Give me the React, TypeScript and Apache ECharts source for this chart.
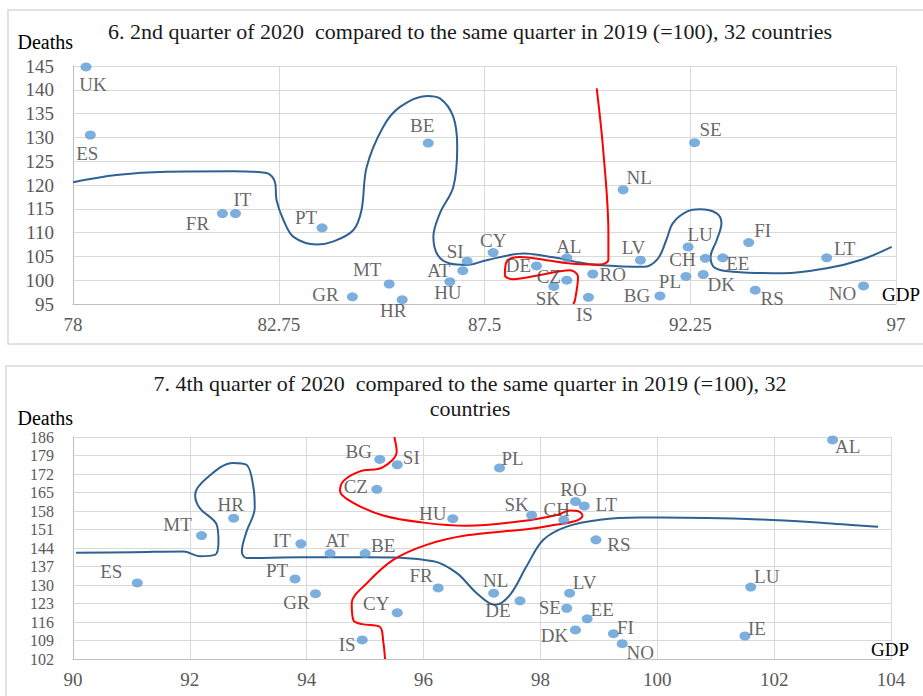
import React, { useEffect, useRef } from 'react';
import * as echarts from 'echarts';

const FONT = "'Liberation Serif', 'Times New Roman', serif";

// ---- Panel 6: 2nd quarter 2020 vs 2nd quarter 2019 (=100)
const Q2_TITLE = '6. 2nd quarter of 2020  compared to the same quarter in 2019 (=100), 32 countries';
const Q2_COUNTRIES = ['UK', 'ES', 'FR', 'IT', 'PT', 'GR', 'MT', 'HR', 'BE', 'HU', 'AT', 'SI', 'CY', 'DE', 'AL', 'CZ',
  'SK', 'RO', 'IS', 'LV', 'SE', 'NL', 'LU', 'CH', 'EE', 'FI', 'LT', 'PL', 'DK', 'BG', 'RS', 'NO'];
const Q2_GDP = [78.3, 78.4, 81.45, 81.75, 83.75, 84.45, 85.3, 85.6, 86.2, 86.7, 87.0, 87.1, 87.7, 88.7, 89.4, 89.4,
  89.1, 90.0, 89.9, 91.1, 92.35, 90.7, 92.2, 92.6, 93.0, 93.6, 95.4, 92.15, 92.55, 91.55, 93.75, 96.25];
const Q2_DEATHS = [144.8, 130.5, 114.0, 114.0, 111.0, 96.5, 99.2, 95.9, 128.8, 99.7, 102.0, 104.0, 105.8, 103.0, 104.7, 100.0,
  98.7, 101.3, 96.4, 104.2, 128.9, 119.0, 107.0, 104.6, 104.7, 107.9, 104.7, 100.8, 101.2, 96.7, 97.9, 98.8];
const Q2_GDP_TICKS = [78, 82.75, 87.5, 92.25, 97];
const Q2_DEATH_TICKS = [95, 100, 105, 110, 115, 120, 125, 130, 135, 140, 145];

// freehand outlines, in axis units
const Q2_BLUE_OUTLINE = [
  [78.0, 120.6], [79.0, 122.1], [80.16, 122.8], [81.7, 122.9], [82.47, 122.5], [82.66, 120.7], [82.7, 116.8],
  [82.86, 112.6], [83.09, 109.1], [83.63, 107.5], [84.0, 108.1], [84.47, 110.5], [84.66, 114.7], [84.78, 123.8],
  [85.16, 132.2], [85.55, 136.4], [86.17, 138.7], [86.47, 138.2], [86.78, 134.3], [86.87, 128.0], [86.78, 119.6],
  [86.47, 114.05], [86.32, 109.1], [86.42, 105.3], [86.7, 103.5], [87.09, 103.2], [87.55, 104.2], [88.4, 105.6],
  [89.09, 104.8], [89.7, 103.7], [90.09, 103.2], [91.17, 102.8], [91.5, 104.5], [91.7, 108.5], [91.85, 112.0],
  [92.17, 114.4], [92.47, 114.9], [92.86, 114.05], [92.97, 111.95], [92.86, 108.4], [92.72, 104.9], [92.82, 102.6],
  [93.24, 101.8], [94.4, 101.45], [95.4, 102.5], [96.2, 104.3], [96.9, 107.0],
];
const Q2_RED_OUTLINE = [
  [90.09, 140.3], [90.24, 127.4], [90.36, 109.85], [90.36, 104.3], [90.17, 103.3], [89.63, 103.4], [88.93, 104.2],
  [88.32, 104.9], [88.01, 103.9], [87.97, 101.1], [88.16, 100.2], [88.78, 101.1], [89.47, 102.1], [89.66, 100.7],
  [89.59, 95.85], [89.55, 95.0],
];

// ---- Panel 7: 4th quarter 2020 vs 4th quarter 2019 (=100)
const Q4_TITLE = '7. 4th quarter of 2020  compared to the same quarter in 2019 (=100), 32\ncountries';
const Q4_COUNTRIES = ['ES', 'MT', 'HR', 'IT', 'AT', 'BE', 'PT', 'GR', 'CY', 'IS', 'BG', 'SI', 'CZ', 'HU', 'FR', 'PL',
  'AL', 'RO', 'LT', 'SK', 'CH', 'RS', 'NL', 'DE', 'LV', 'SE', 'EE', 'DK', 'FI', 'NO', 'LU', 'IE'];
const Q4_GDP = [91.1, 92.2, 92.75, 93.9, 94.4, 95.0, 93.8, 94.15, 95.55, 94.95, 95.25, 95.55, 95.2, 96.5, 96.25, 97.3,
  103.0, 98.6, 98.75, 97.85, 98.4, 98.95, 97.2, 97.65, 98.5, 98.45, 98.8, 98.6, 99.25, 99.4, 101.6, 101.5];
const Q4_DEATHS = [130.8, 148.7, 155.3, 145.6, 141.9, 141.9, 132.3, 126.7, 119.5, 109.2, 177.5, 175.5, 166.2, 155.1, 128.9, 174.3,
  184.9, 161.6, 159.9, 156.4, 154.6, 147.1, 126.9, 124.0, 126.9, 121.2, 117.2, 113.0, 111.6, 107.8, 129.2, 110.7];
const Q4_GDP_TICKS = [90, 92, 94, 96, 98, 100, 102, 104];
const Q4_DEATH_TICKS = [102, 109, 116, 123, 130, 137, 144, 151, 158, 165, 172, 179, 186];

const Q4_BLUE_OUTLINE = [
  [90.05, 142.2], [91.03, 142.4], [91.89, 142.7], [92.17, 140.9], [92.43, 141.4], [92.49, 146.4], [92.46, 152.8],
  [92.17, 159.1], [92.09, 164.1], [92.29, 170.5], [92.74, 176.2], [92.97, 175.5], [93.09, 166.7], [93.11, 159.1],
  [92.97, 150.2], [92.89, 142.7], [92.97, 140.2], [93.89, 140.5], [95.03, 140.5], [96.17, 139.0], [96.57, 134.5],
  [96.91, 126.9], [97.22, 122.5], [97.48, 126.3], [97.76, 137.0], [98.05, 147.1], [98.45, 152.1], [99.02, 154.7],
  [99.7, 155.5], [100.05, 155.5], [101.76, 154.8], [102.9, 153.4], [103.78, 152.0],
];
const Q4_RED_OUTLINE = [
  [95.5, 186], [95.54, 180.5], [95.3, 174.5], [94.91, 173.0], [94.63, 169.4], [94.57, 165.6], [94.78, 161.3],
  [95.31, 156.3], [96.0, 153.6], [96.74, 152.4], [97.7, 154.2], [98.3, 156.6], [98.5, 158.2], [98.65, 157.9],
  [98.72, 156.2], [98.6, 154.2], [98.2, 152.6], [97.8, 151.2], [96.74, 148.8], [96.05, 145.2], [95.48, 139.5],
  [95.03, 130.7], [94.77, 123.1], [94.8, 116.6], [94.95, 115.2], [95.25, 114.2], [95.31, 108.6], [95.34, 102],
];

// where each country code sits relative to its dot (px)
const Q2_LABEL_OFFSET: Record<string, number[]> = {
  UK: [7, 18], ES: [-3, 18], FR: [-25, 10], IT: [7, -14], PT: [-16, -10], GR: [-27, -2], MT: [-22, -15],
  HR: [-9, 11], BE: [-6, -18], HU: [-2, 11], AT: [-24, 0], SI: [-12, -10], CY: [0, -12], DE: [-18, 0],
  AL: [2, -11], CZ: [-18, -4], SK: [-6, 12], RO: [20, 0], IS: [-4, 17], LV: [-7, -13], SE: [16, -13],
  NL: [16, -12], LU: [12, -12], CH: [-23, 1], EE: [15, 6], FI: [14, -12], LT: [18, -9], PL: [-16, 5],
  DK: [18, 10], BG: [-23, 0], RS: [17, 8], NO: [-21, 8],
};
const Q4_LABEL_OFFSET: Record<string, number[]> = {
  ES: [-26, -11], MT: [-24, -11], HR: [-3, -14], IT: [-19, -3], AT: [7, -13], BE: [18, -8], PT: [-18, -8],
  GR: [-19, 9], CY: [-21, -9], IS: [-15, 5], BG: [-21, -8], SI: [14, -7], CZ: [-21, -3], HU: [-20, -5],
  FR: [-17, -12], PL: [13, -9], AL: [15, 7], RO: [-2, -12], LT: [22, -1], SK: [-15, -11], CH: [-7, -10],
  RS: [23, 5], NL: [2, -13], DE: [-22, 10], LV: [15, -11], SE: [-17, -1], EE: [15, -9], DK: [-21, 6],
  FI: [12, -6], NO: [18, 9], LU: [16, -11], IE: [12, -8],
};

const DOT = '#5b9bd5';
const BLUE_LINE = '#2f6193';
const RED_LINE = '#ff0000';
const GRID_LINE = '#d9d9d9';
const AXIS_LINE = '#bfbfbf';
const TICK_TEXT = '#595959';
const LABEL_TEXT = '#404040';

function points(names: string[], xs: number[], ys: number[], offsets: Record<string, number[]>) {
  return names.map((n, i) => ({
    name: n,
    value: [xs[i], ys[i]],
    label: { offset: offsets[n] || [0, -12] },
  }));
}

function scatter(idx: number, data: any[]) {
  return {
    type: 'scatter',
    xAxisIndex: idx,
    yAxisIndex: idx,
    data,
    symbol: 'circle',
    symbolSize: [11, 9],
    itemStyle: { color: DOT },
    label: {
      show: true,
      position: 'inside',
      formatter: '{b}',
      color: LABEL_TEXT,
      fontSize: 19,
      fontFamily: FONT,
    },
    silent: true,
    z: 4,
  };
}

function outline(idx: number, data: number[][], color: string) {
  return {
    type: 'line',
    xAxisIndex: idx,
    yAxisIndex: idx,
    data,
    smooth: 0.35,
    symbol: 'none',
    lineStyle: { color, width: 2 },
    silent: true,
    z: 3,
  };
}

const tickText = { color: TICK_TEXT, fontSize: 19, fontFamily: FONT };
const axisTitle = { color: '#000', fontSize: 20, fontFamily: FONT };

function xAxis(idx: number, ticks: number[], nameGap: number) {
  return {
    type: 'value',
    gridIndex: idx,
    min: ticks[0],
    max: ticks[ticks.length - 1],
    axisLine: { show: true, onZero: false, lineStyle: { color: AXIS_LINE, width: 1 } },
    axisTick: { show: false, customValues: ticks },
    axisLabel: { ...tickText, margin: 11, customValues: ticks, showMinLabel: true, showMaxLabel: true },
    splitLine: { show: true, lineStyle: { color: GRID_LINE, width: 1 } },
    name: 'GDP',
    nameLocation: 'end',
    nameGap,
    nameTextStyle: { ...axisTitle, fontSize: 19, align: 'left', verticalAlign: 'bottom' },
  };
}

function yAxis(idx: number, ticks: number[], nameGap: number, labelSize: number) {
  return {
    type: 'value',
    gridIndex: idx,
    min: ticks[0],
    max: ticks[ticks.length - 1],
    axisLine: { show: true, onZero: false, lineStyle: { color: AXIS_LINE, width: 1 } },
    axisTick: { show: false, customValues: ticks },
    axisLabel: {
      ...tickText,
      fontSize: labelSize,
      margin: 19,
      customValues: ticks,
      showMinLabel: true,
      showMaxLabel: true,
      hideOverlap: false,
    },
    splitLine: { show: true, lineStyle: { color: GRID_LINE, width: 1 } },
    name: 'Deaths',
    nameLocation: 'end',
    nameGap,
    nameTextStyle: { ...axisTitle, align: 'right', verticalAlign: 'middle' },
  };
}

function titleText(x: number, y: number, text: string) {
  return {
    type: 'text',
    x,
    y,
    silent: true,
    style: {
      text,
      fill: '#1a1a1a',
      fontSize: 22,
      fontFamily: FONT,
      lineHeight: 25,
      align: 'center',
      textAlign: 'center',
      verticalAlign: 'middle',
      textVerticalAlign: 'middle',
    },
  };
}

export default function App() {
  const ref = useRef<HTMLDivElement>(null);

  useEffect(() => {
    document.body.style.margin = '0';
    if (!ref.current) return;
    const chart = echarts.init(ref.current, null, { renderer: 'svg' });
    chart.setOption({
      animation: false,
      backgroundColor: '#ffffff',
      grid: [
        { left: 73, top: 66, width: 823, height: 238, outerBoundsMode: 'none' },
        { left: 73, top: 437, width: 818, height: 222, outerBoundsMode: 'none' },
      ],
      xAxis: [xAxis(0, Q2_GDP_TICKS, -14), xAxis(1, Q4_GDP_TICKS, -20)],
      yAxis: [yAxis(0, Q2_DEATH_TICKS, 24, 19), yAxis(1, Q4_DEATH_TICKS, 19, 16)],
      graphic: [
        {
          type: 'rect', silent: true, z: -1,
          shape: { x: 8, y: 10, width: 940, height: 334 },
          style: { fill: 'none', stroke: GRID_LINE, lineWidth: 1.5 },
        },
        {
          type: 'rect', silent: true, z: -1,
          shape: { x: 6, y: 366, width: 940, height: 340 },
          style: { fill: 'none', stroke: GRID_LINE, lineWidth: 1.5 },
        },
        titleText(470, 31, Q2_TITLE),
        titleText(470, 395.5, Q4_TITLE),
      ],
      series: [
        outline(0, Q2_BLUE_OUTLINE, BLUE_LINE),
        outline(0, Q2_RED_OUTLINE, RED_LINE),
        scatter(0, points(Q2_COUNTRIES, Q2_GDP, Q2_DEATHS, Q2_LABEL_OFFSET)),
        outline(1, Q4_BLUE_OUTLINE, BLUE_LINE),
        outline(1, Q4_RED_OUTLINE, RED_LINE),
        scatter(1, points(Q4_COUNTRIES, Q4_GDP, Q4_DEATHS, Q4_LABEL_OFFSET)),
      ],
    });
    return () => chart.dispose();
  }, []);

  return <div ref={ref} style={{ width: 923, height: 696 }} />;
}
